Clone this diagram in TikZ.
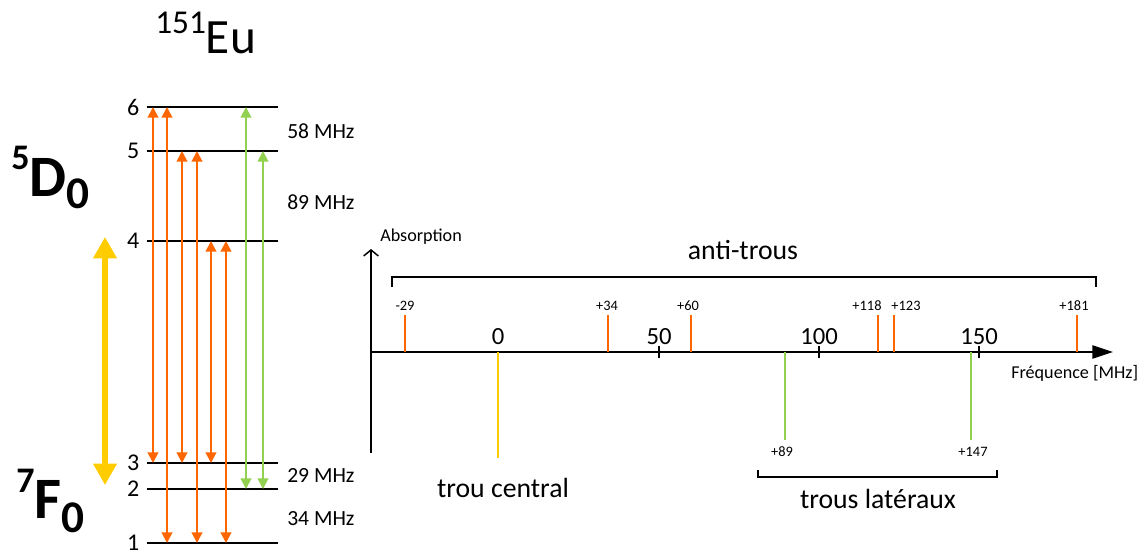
\documentclass[tikz,border=0pt]{standalone}
\usepackage{fontspec}
\setmainfont{Carlito}
\usetikzlibrary{arrows.meta}
\definecolor{orng}{RGB}{255,102,0}
\definecolor{grn}{RGB}{146,208,80}
\definecolor{yel}{RGB}{255,204,0}
\begin{document}
\begin{tikzpicture}[x=0.75pt,y=-0.75pt,
  level/.style={line width=1.8pt,black},
  trans/.style={line width=1.5pt,{Triangle[width=8pt,length=8pt]}-{Triangle[width=8pt,length=8pt]}},
  yarrow/.style={yel,line width=3.8pt,{Triangle[width=17pt,length=16pt]}-{Triangle[width=17pt,length=16pt]}},
  lvlnum/.style={inner sep=0pt,font=\fontsize{18}{18}\selectfont},
  mhz/.style={inner sep=0pt,anchor=west,font=\fontsize{16.2}{16.2}\selectfont},
  axis/.style={line width=1.1pt,black},
  spike/.style={line width=2.2pt},
  small/.style={inner sep=0pt,font=\fontsize{10.8}{10.8}\selectfont},
  ticklbl/.style={inner sep=0pt,font=\fontsize{18.5}{18.5}\selectfont},
  axlbl/.style={inner sep=0pt,font=\fontsize{13.6}{13.6}\selectfont},
  big/.style={inner sep=0pt,font=\fontsize{20.8}{20.8}\selectfont},
  brk/.style={line width=1.1pt,black}]
\useasboundingbox (0,0) rectangle (1148,551);

% ---- title
\node[inner sep=0pt,anchor=base west] (eu) at (155,53)
  {\raisebox{15pt}{\fontsize{25}{25}\selectfont 151}\fontsize{37}{37}\selectfont Eu};

% ---- term symbols
\node[inner sep=0pt,anchor=base west] (d0) at (11,196)
  {\bfseries\raisebox{20pt}{\fontsize{27}{27}\selectfont 5}\fontsize{44}{44}\selectfont D\raisebox{-9.5pt}{\fontsize{34}{34}\selectfont 0}};
\node[inner sep=0pt,anchor=base west] (f0) at (16,518)
  {\bfseries\raisebox{19pt}{\fontsize{27}{27}\selectfont 7}\fontsize{44}{44}\selectfont F\raisebox{-10.5pt}{\fontsize{34}{34}\selectfont 0}};

% ---- levels
\foreach \n/\y in {6/107,5/151,4/241,3/463,2/489,1/543}{
  \coordinate (L\n) at (147,\y);
  \coordinate (R\n) at (278,\y);
  \draw[level] (L\n) -- (R\n);
  \node[lvlnum,anchor=east] (num\n) at ([xshift=-5.5pt]L\n) {\n};
}
\node[mhz] (m58) at (287,131) {58 MHz};
\node[mhz] (m89) at (287,202) {89 MHz};
\node[mhz] (m29) at (287,475) {29 MHz};
\node[mhz] (m34) at (287,519) {34 MHz};

% ---- transitions
\foreach \x/\t/\b/\c in {153/6/3/orng,167/6/1/orng,182/5/3/orng,197/5/1/orng,
                         211/4/3/orng,226/4/1/orng,246/6/2/grn,263/5/2/grn}
  \draw[trans,\c] (\x,0 |- L\t) -- (\x,0 |- L\b);

% ---- big yellow arrow
\coordinate (yt) at (105,237);
\coordinate (yb) at (105,485);
\draw[yarrow] (yt) -- (yb);

% ---- spectrum axes
\coordinate (O) at (371,352);
\coordinate (xend) at (1113,352);
\coordinate (ytop) at (371,249);
\coordinate (ybot) at (371,453);
\draw[axis,-{Straight Barb[width=11pt,length=4.5pt]}] (ybot) -- (ytop);
\draw[axis,-{Triangle[width=10pt,length=15.5pt]}] (O) -- (xend);
\node[axlbl,anchor=west] (absl) at (380,237) {Absorption};
\node[axlbl,anchor=west] (frql) at (1011,373) {Fréquence [MHz]};

\node[ticklbl] (t0) at (498,337) {0};
\foreach \v/\x in {50/659,100/819,150/979}{
  \draw[axis] (\x,346) -- (\x,358);
  \node[ticklbl] (t\v) at (\x,337) {\v};
}

% ---- anti-holes
\foreach \x/\lx/\l in {405/405/-29,608/607/+34,691/688/+60,878/867/+118,894/906/+123,1077/1074/+181}{
  \draw[spike,orng] (\x,315) -- (\x,352);
  \node[small] (a\x) at (\lx,306) {\l};
}
% ---- central hole
\draw[spike,yel] (498,352) -- (498,458);
% ---- side holes
\draw[spike,grn] (785,352) -- (785,440);
\draw[spike,grn] (971,352) -- (971,440);
\node[small] (g89) at (782,452) {+89};
\node[small] (g147) at (973,452) {+147};

% ---- brackets and labels
\draw[brk] (392,287) -- (392,277) -- (1096,277) -- (1096,287);
\node[big] (anti) at (743,250) {anti-trous};
\draw[brk] (758,470) -- (758,477) -- (997,477) -- (997,470);
\node[big] (lat) at (878,499) {trous latéraux};
\node[big] (cen) at (503,488) {trou central};
\end{tikzpicture}
\end{document}
